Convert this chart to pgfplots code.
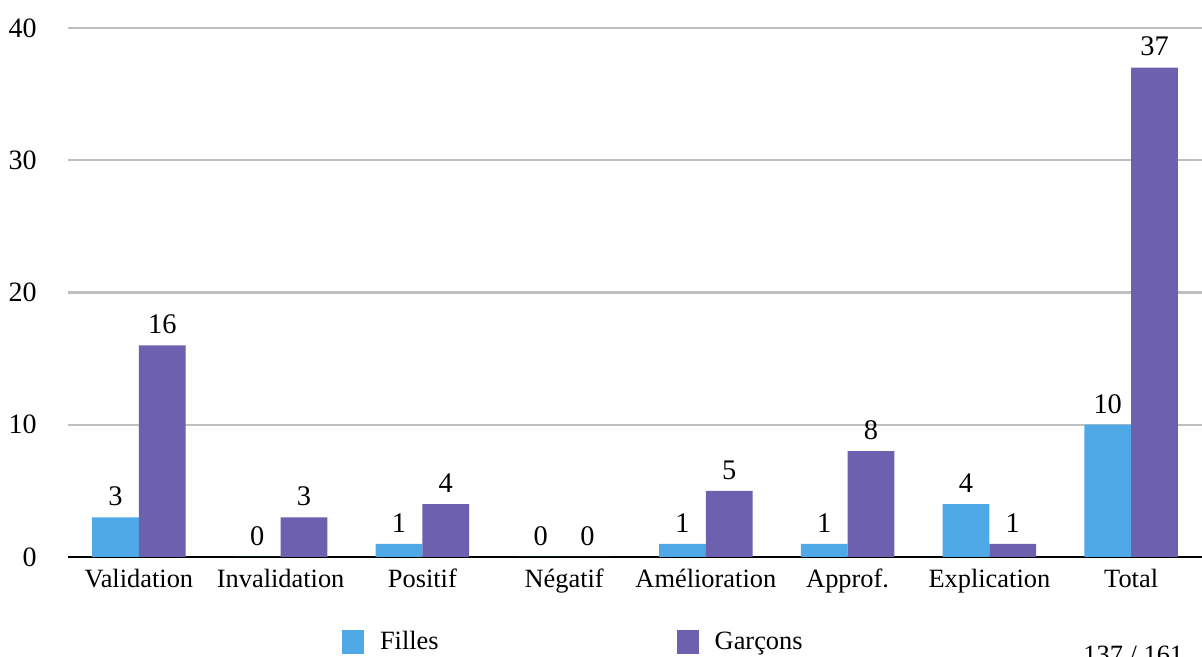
\documentclass[border=0pt]{standalone}
\usepackage{fontspec}
\setmainfont{Liberation Serif}
\usepackage{pgfplots}
\pgfplotsset{compat=1.18}
\definecolor{filles}{RGB}{78,169,230}
\definecolor{garcons}{RGB}{108,96,175}
\definecolor{gridgray}{RGB}{191,191,191}
\begin{document}
\begin{tikzpicture}
\useasboundingbox (0,0) rectangle (601pt,328.5pt);
\begin{axis}[
  at={(34pt,50pt)}, anchor=south west,
  scale only axis, width=567pt, height=264.5pt,
  xmin=-0.5, xmax=7.5, ymin=0, ymax=40,
  ytick={0,10,20,30,40},
  xtick={0,...,7},
  xticklabels={Validation,Invalidation,Positif,Négatif,Amélioration,Approf.,Explication,Total},
  major tick length=0pt,
  axis x line*=bottom,
  axis y line*=left,
  x axis line style={black, line width=1.2pt, -},
  y axis line style={draw=none},
  ymajorgrids, grid style={gridgray, line width=1.2pt},
  /pgf/number format/assume math mode=true,
  yticklabel style={anchor=east, inner sep=0pt, xshift=-15.5pt, font=\fontsize{14}{16}\selectfont},
  xticklabel style={anchor=north, inner sep=0pt, yshift=-6pt, font=\fontsize{13.2}{15}\selectfont},
  ybar=0pt, bar width=0.33,
  nodes near coords,
  nodes near coords style={font=\fontsize{14.2}{16}\selectfont, inner sep=0pt, anchor=south, yshift=5.5pt},
  legend columns=2,
  legend style={draw=none, fill=none, at={(0.236,-0.161)}, anchor=west,
    font=\fontsize{13.2}{15}\selectfont,
    /tikz/every odd column/.append style={column sep=6pt},
    /tikz/every even column/.append style={column sep=117pt}},
  legend image code/.code={\fill[#1] (0pt,-6pt) rectangle (11pt,6pt);},
  clip=false,
]
\addplot[fill=filles, draw=none, bar shift=-0.165] coordinates {(0,3) (1,0) (2,1) (3,0) (4,1) (5,1) (6,4) (7,10)};
\addplot[fill=garcons, draw=none, bar shift=0.165] coordinates {(0,16) (1,3) (2,4) (3,0) (4,5) (5,8) (6,1) (7,37)};
\legend{Filles,Garçons}
\end{axis}
\node[anchor=base west, inner sep=0pt, font=\fontsize{13.2}{15}\selectfont] at (541.5pt,-3pt) {137 / 161};
\end{tikzpicture}
\end{document}
